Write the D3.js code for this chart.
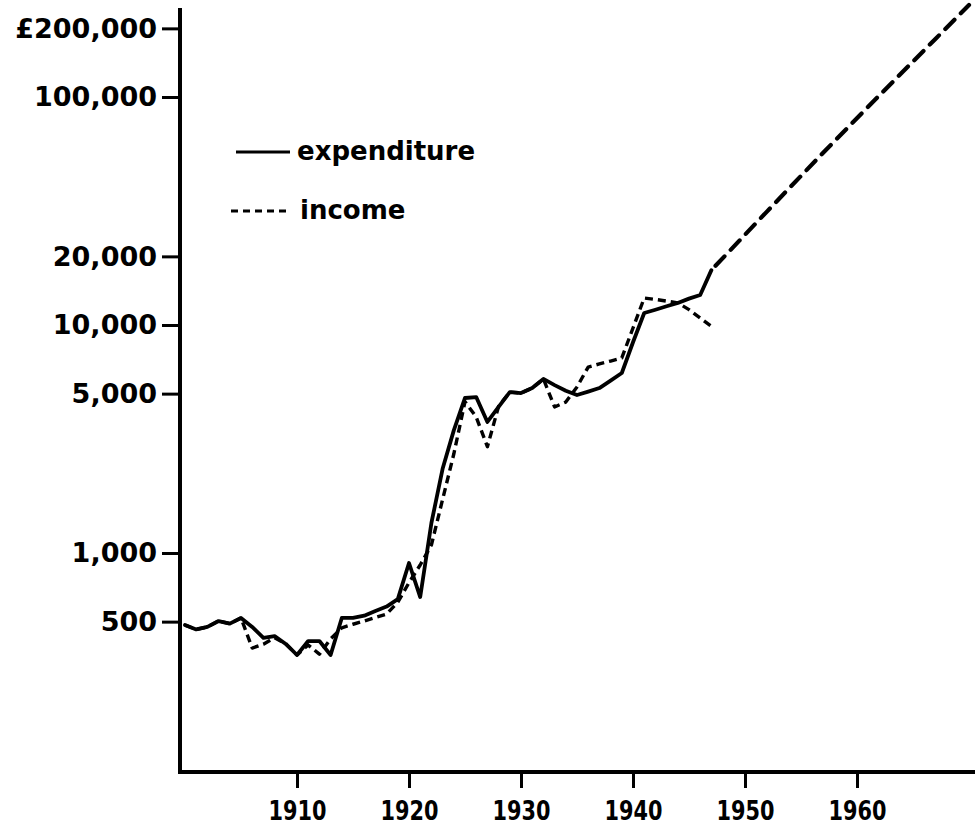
<!DOCTYPE html>
<html><head><meta charset="utf-8">
<script src="https://cdn.jsdelivr.net/npm/d3@7"></script>
<style>body{margin:0;background:#fff}</style>
</head><body><svg id="c" width="975" height="826"></svg>
<script>
const years = [1900,1901,1902,1903,1904,1905,1906,1907,1908,1909,
  1910,1911,1912,1913,1914,1915,1916,1917,1918,1919,
  1920,1921,1922,1923,1924,1925,1926,1927,1928,1929,
  1930,1931,1932,1933,1934,1935,1936,1937,1938,1939,
  1940,1941,1942,1943,1944,1945,1946,1947];
const expenditure = [483,462,474,503,490,519,474,424,432,399,
  357,411,411,357,519,519,531,557,582,628,
  904,641,1354,2340,3450,4785,4830,3755,4370,5080,
  5030,5290,5800,5450,5150,4930,5100,5290,5700,6160,
  8400,11290,11670,12080,12500,13050,13540,17400];
const income = [483,462,474,503,490,519,383,398,425,399,
  357,395,360,420,470,487,503,521,540,608,
  741,886,1084,1717,2717,4610,3950,2925,4400,5080,
  5030,5290,5800,4370,4590,5350,6540,6750,6950,7170,
  9700,13130,12950,12730,12500,11680,10730,9860];
const projYears = [1947,1952,1957,1962,1967,1970];
const projection = [17400,31600,57100,101700,179700,253000];
const yTickValues = [500,1000,5000,10000,20000,100000,200000];
const yTickLabels = ["500","1,000","5,000","10,000","20,000","100,000","£200,000"];
const xTickValues = [1910,1920,1930,1940,1950,1960];
const legendLabels = ["expenditure","income"];

const svg = d3.select("#c");
const font = "'DejaVu Sans', sans-serif";
const x = d3.scaleLinear().domain([1900,1970]).range([185,969]);
const y = d3.scaleLog().domain([1000,100000]).range([553,97]);
const axisX = 180, axisY = 772;

// Y axis
const ya = d3.axisLeft(y).tickValues(yTickValues)
  .tickFormat((d,i)=>yTickLabels[i]).tickSize(18).tickPadding(5);
svg.append("g").attr("transform",`translate(${axisX},0)`).call(ya)
  .call(g=>{
    g.select(".domain").remove();
    g.selectAll("line").attr("stroke","#000").attr("stroke-width",3);
    g.selectAll("text").attr("font-family",font).attr("font-weight","bold")
      .attr("font-size",27).attr("fill","#000").attr("dy","0.33em");
  });

// X axis
const xa = d3.axisBottom(x).tickValues(xTickValues).tickFormat(d=>String(d))
  .tickSize(16).tickPadding(13);
svg.append("g").attr("transform",`translate(0,${axisY})`).call(xa)
  .call(g=>{
    g.select(".domain").remove();
    g.selectAll("line").attr("stroke","#000").attr("stroke-width",3);
    g.selectAll("text").attr("font-family",font).attr("font-weight","bold")
      .attr("font-size",27).attr("fill","#000")
      .attr("textLength",58).attr("lengthAdjust","spacingAndGlyphs");
  });

// axis lines
svg.append("line").attr("x1",axisX).attr("x2",axisX).attr("y1",8).attr("y2",axisY+2)
  .attr("stroke","#000").attr("stroke-width",4);
svg.append("line").attr("x1",axisX-2).attr("x2",975).attr("y1",axisY).attr("y2",axisY)
  .attr("stroke","#000").attr("stroke-width",4);

const line = d3.line().x(d=>x(d[0])).y(d=>y(d[1]));

// income (dashed)
svg.append("path").datum(years.map((yr,i)=>[yr,income[i]]))
  .attr("d",line).attr("fill","none").attr("stroke","#000")
  .attr("stroke-width",3.4).attr("stroke-dasharray","8,5")
  .attr("stroke-linejoin","round");

// expenditure (solid)
svg.append("path").datum(years.map((yr,i)=>[yr,expenditure[i]]))
  .attr("d",line).attr("fill","none").attr("stroke","#000")
  .attr("stroke-width",3.8).attr("stroke-linejoin","round").attr("stroke-linecap","round");

// projection (dashed)
svg.append("path").datum(projYears.map((yr,i)=>[yr,projection[i]]))
  .attr("d",line).attr("fill","none").attr("stroke","#000")
  .attr("stroke-width",4.2).attr("stroke-dasharray","13,9").attr("stroke-dashoffset",-6)
  .attr("stroke-linecap","round");

// legend
const lg = svg.append("g");
lg.append("line").attr("x1",236).attr("x2",290).attr("y1",152).attr("y2",152)
  .attr("stroke","#000").attr("stroke-width",3);
lg.append("text").attr("x",297).attr("y",160).text(legendLabels[0])
  .attr("font-family",font).attr("font-weight","bold").attr("font-size",26).attr("fill","#000");
lg.append("line").attr("x1",231).attr("x2",290).attr("y1",211).attr("y2",211)
  .attr("stroke","#000").attr("stroke-width",3).attr("stroke-dasharray","7,5");
lg.append("text").attr("x",300).attr("y",219).text(legendLabels[1])
  .attr("font-family",font).attr("font-weight","bold").attr("font-size",26).attr("fill","#000");
</script></body></html>
